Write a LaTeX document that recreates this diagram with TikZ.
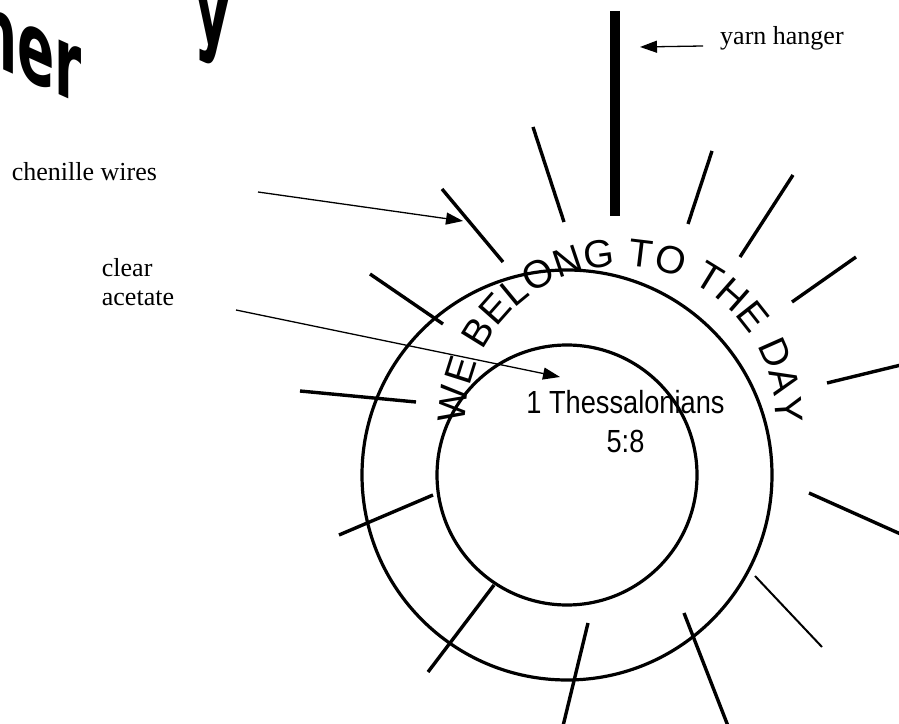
\documentclass[tikz,border=0pt]{standalone}
\usepackage{fontspec}
\setmainfont{Liberation Serif}
\newfontfamily\arialf{Liberation Sans}
\newfontfamily\narrowf{Liberation Sans}[FakeStretch=0.85]
\newfontfamily\titlef{DejaVu Sans}[FakeStretch=0.55]
\usetikzlibrary{arrows.meta,decorations.text}
\begin{document}
\begin{tikzpicture}[x=1pt,y=1pt,
  ring/.style={line width=3.2pt},
  ray/.style={line width=3.4pt},
  thinray/.style={line width=2pt},
  hanger/.style={line width=9.5pt},
  pointer/.style={line width=1.3pt,-{Triangle[length=17pt,width=12pt]}},
  lbl/.style={font=\fontsize{26}{29}\selectfont, inner sep=0pt},
  titletext/.style={font=\titlef\bfseries\fontsize{100}{100}\selectfont, inner sep=0pt, anchor=base west, yslant=-0.45},
]
\useasboundingbox (0,0) rectangle (899,723);

% cut-off title fragments
\node[titletext] (titleA) at (-22,665) {ner};
\node[titletext] (titleB) at (194,687) {y};

% rings
\coordinate (c) at (567,248);
\draw[ring] (c) circle[radius=205];
\draw[ring] (c) circle[radius=130];

% yarn hanger
\draw[hanger] (615,712) -- (615,507);

% chenille wire rays
\draw[ray] (533,596) -- (564,501);
\draw[ray] (712,572) -- (688,499);
\draw[ray] (793,548) -- (740,466);
\draw[ray] (856,466) -- (792,421);
\draw[ray] (905,359) -- (827,340);
\draw[ray] (809,230) -- (905,187);
\draw[thinray] (755,147) -- (822,76);
\draw[ray] (684,110) -- (728,-3);
\draw[ray] (588,100) -- (563,-3);
\draw[ray] (494,138) -- (428,51);
\draw[ray] (433,228) -- (339,188);
\draw[ray] (300,332) -- (416,321);
\draw[ray] (370,449) -- (443,399);
\draw[ray] (442,534) -- (503,461);

% curved text
\path[decorate, decoration={text along path,
  text={|\arialf\fontsize{39}{39}\selectfont|WE BELONG TO THE DAY},
  text align=fit to path}]
  (621,302) ++(181:155) arc[start angle=181, end angle=-1, radius=155];

% verse
\node[font=\narrowf\fontsize{32}{39}\selectfont, align=center, anchor=north, inner sep=0pt] (verse) at (625.5,333) {1 Thessalonians\\5:8};

% labels
\node[lbl, anchor=base west] (yarn) at (720,678) {yarn hanger};
\node[lbl, anchor=base west] (chenille) at (11.7,542.3) {chenille wires};
\node[lbl, anchor=north west, align=left] (acetate) at (101.7,465) {clear\\acetate};

% pointers
\coordinate (yarnS) at (703,677);
\coordinate (yarnE) at (640,676);
\coordinate (chenS) at (258,531);
\coordinate (chenE) at (463,502);
\coordinate (aceS) at (236,413);
\coordinate (aceE) at (560,346);
\draw[pointer] (yarnS) -- (yarnE);
\draw[pointer] (chenS) -- (chenE);
\draw[pointer] (aceS) -- (aceE);
\end{tikzpicture}
\end{document}
